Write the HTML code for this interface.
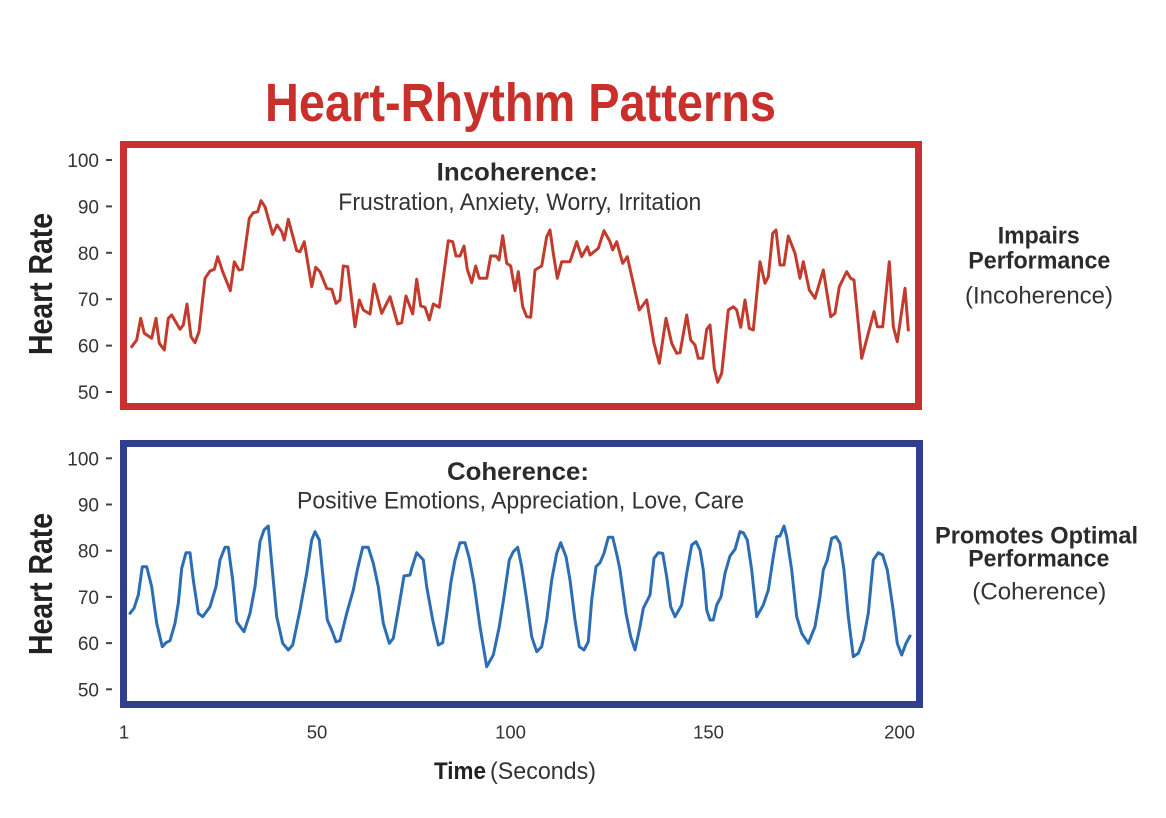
<!DOCTYPE html>
<html>
<head>
<meta charset="utf-8">
<style>
  html,body{margin:0;padding:0;background:#fff;}
  svg{display:block;}
  text{font-family:"Liberation Sans", Arial, sans-serif;}
</style>
</head>
<body>
<svg width="1166" height="818" viewBox="0 0 1166 818" xmlns="http://www.w3.org/2000/svg">
  <rect x="0" y="0" width="1166" height="818" fill="#ffffff"/>

  <!-- Title -->
  <text x="265" y="121" font-size="54" font-weight="bold" fill="#c9302c" textLength="511" lengthAdjust="spacingAndGlyphs">Heart-Rhythm Patterns</text>

  <!-- ===== TOP CHART ===== -->
  <rect x="123.5" y="144.5" width="795" height="262" fill="none" stroke="#c9302f" stroke-width="7"/>

  <text x="436.7" y="180.7" font-size="25" font-weight="bold" fill="#2b2b2b" textLength="161" lengthAdjust="spacingAndGlyphs">Incoherence:</text>
  <text x="338.3" y="210" font-size="24" fill="#333" textLength="363" lengthAdjust="spacingAndGlyphs">Frustration, Anxiety, Worry, Irritation</text>

  <!-- y ticks top -->
  <g font-size="19" fill="#333" text-anchor="end">
    <text x="99" y="167">100</text>
    <text x="99" y="213.4">90</text>
    <text x="99" y="259.8">80</text>
    <text x="99" y="306.2">70</text>
    <text x="99" y="352.6">60</text>
    <text x="99" y="399">50</text>
  </g>
  <g stroke="#444" stroke-width="2">
    <line x1="106" y1="160" x2="112" y2="160"/>
    <line x1="106" y1="206.4" x2="112" y2="206.4"/>
    <line x1="106" y1="252.8" x2="112" y2="252.8"/>
    <line x1="106" y1="299.2" x2="112" y2="299.2"/>
    <line x1="106" y1="345.6" x2="112" y2="345.6"/>
    <line x1="106" y1="392" x2="112" y2="392"/>
  </g>
  <text transform="translate(52,355) rotate(-90)" x="0" y="0" font-size="33" font-weight="bold" fill="#222" textLength="142" lengthAdjust="spacingAndGlyphs">Heart Rate</text>

  <polyline fill="none" stroke="#c23b2c" stroke-width="3" stroke-linejoin="round" stroke-linecap="round"
    points="131.7,346.7 136.7,340 140.7,318.3 144.3,333.3 151.7,338.3 156,318.3 159.3,343.3 164.3,350 168.3,318.3 171.7,315 180,329.3 183.3,325 187,304 191,336.7 195,342.7 199,331.7 205,278.3 210,271 214.3,269.3 217.7,256.7 222.7,271.7 230.3,290.7 234.3,261.7 239,270 242.3,269.3 249.3,218.3 253.3,212.7 257.7,211.7 261,200.7 265,206.7 272.7,234.3 277,225 281.7,231.7 284.3,240 288.3,219.3 296.7,250.7 300,251.7 304.3,241.7 311.7,286.7 315.7,267.3 320,271.7 326.7,288.3 331.7,289.3 336,303.3 340,300 343.3,266 347.7,266.7 355,326.7 359.3,300 363.3,310 370,314 374,284 381.7,313.3 390,296.7 397.7,324 401.7,322.7 406,296 412.7,314 416.7,279.3 420.7,306 425,307.3 429.3,320 433.3,304 439.3,307.3 448.3,240.7 452.7,241.7 456,256 460,256 464,246 467.3,269.3 471.7,282.7 475.7,266 479.3,278.3 486.7,278.3 490.7,256 496,256 499,260 502.7,235.7 506.7,263.3 510.7,266 515,290.7 518.3,271.7 522.7,306.7 526.7,316.7 530.7,317.3 535,270 541.7,266 546.7,236.7 550,230 553.3,253.3 557.3,278.3 561.7,261.7 570,261.7 576.7,241.7 581.7,256.7 587.3,246.7 590,255 598.3,248.3 604,230.7 610,241.7 612.7,250 616.7,241.7 622.7,263.3 627.3,256.7 639.3,310 646.7,300 654,343.3 659.3,363.3 666,318.3 671.7,343.3 676.7,353.3 680,352.7 686.7,315 690.7,340 695,345 698.3,358.3 702.7,358.3 706.7,329.3 710,325 714.3,368.3 717.7,382.3 721.7,373.3 728.3,310 733.3,306.7 736.7,310 740.7,327.3 745,300 749.3,328.3 753.3,330 760,261.7 765,283.3 768.3,276.7 772.7,233.3 776,230 780,265 784,265 788.3,236 795,253.3 800,278.3 803.3,261.7 809.3,290 815,298.3 823.3,270 830.7,316.7 835,313.3 839.3,286.7 846.7,271.7 850.7,278.3 854,280 861.7,358.3 868.3,333.3 874,311.7 877.3,326.7 882.7,326.7 889.3,261.7 893.3,326.7 897.3,341.7 905,288.3 908.3,330"/>

  <!-- right text top -->
  <text x="997.7" y="243.3" font-size="24" font-weight="bold" fill="#2b2b2b" textLength="82" lengthAdjust="spacingAndGlyphs">Impairs</text>
  <text x="968.3" y="268.3" font-size="24" font-weight="bold" fill="#2b2b2b" textLength="142" lengthAdjust="spacingAndGlyphs">Performance</text>
  <text x="965" y="303.5" font-size="24" fill="#333" textLength="148" lengthAdjust="spacingAndGlyphs">(Incoherence)</text>

  <!-- ===== BOTTOM CHART ===== -->
  <rect x="123.5" y="443.5" width="796" height="261" fill="none" stroke="#2f3e8e" stroke-width="7"/>

  <text x="447" y="480" font-size="25" font-weight="bold" fill="#2b2b2b" textLength="142" lengthAdjust="spacingAndGlyphs">Coherence:</text>
  <text x="297" y="508.5" font-size="24" fill="#333" textLength="447" lengthAdjust="spacingAndGlyphs">Positive Emotions, Appreciation, Love, Care</text>

  <g font-size="19" fill="#333" text-anchor="end">
    <text x="99" y="465.3">100</text>
    <text x="99" y="511.5">90</text>
    <text x="99" y="557.7">80</text>
    <text x="99" y="603.9">70</text>
    <text x="99" y="650.1">60</text>
    <text x="99" y="696.3">50</text>
  </g>
  <g stroke="#444" stroke-width="2">
    <line x1="106" y1="458.3" x2="112" y2="458.3"/>
    <line x1="106" y1="504.5" x2="112" y2="504.5"/>
    <line x1="106" y1="550.7" x2="112" y2="550.7"/>
    <line x1="106" y1="596.9" x2="112" y2="596.9"/>
    <line x1="106" y1="643.1" x2="112" y2="643.1"/>
    <line x1="106" y1="689.3" x2="112" y2="689.3"/>
  </g>
  <text transform="translate(52,655) rotate(-90)" x="0" y="0" font-size="33" font-weight="bold" fill="#222" textLength="142" lengthAdjust="spacingAndGlyphs">Heart Rate</text>

  <polyline fill="none" stroke="#2c6db3" stroke-width="3" stroke-linejoin="round" stroke-linecap="round"
    points="130,613.3 134,608.3 138.3,595 142.3,566.7 146.7,566.7 151.7,586.7 156.7,623.3 162.3,646.7 166,642.7 170,640.7 175,623.3 178.3,603.3 181.7,568.3 186,552.7 190,552.7 193.3,580 198.3,613.3 202.7,616.7 210,606.7 216,586.7 220,560 225,547.3 228.3,547.3 232.7,580 236.7,621.7 244,631.7 250,613.3 255,586.7 260,541.7 264,530 268.3,526 271.7,563.3 276.7,616.7 282.7,643.3 288.3,650 292.7,645 300,610 306.7,573.3 311.7,540 315,531.7 319.3,540 323.3,580 327.3,620 331.7,630 336,641.7 340,640.7 346.7,613.3 353.3,590 357.3,570 362.7,547.3 368.3,547.3 373.3,563.3 378.3,586.7 383.3,623.3 389.3,643.3 393.3,638.3 398.3,610 404,576 410,575 411.7,568.3 416.7,552.7 423.3,560 426.7,586.7 432.7,620 438.3,645 442.7,642.7 446.7,615 451,581.7 455,560 460,542.7 465,542.7 469.3,558.3 474,583.3 480,626.7 486.7,666.7 493.3,655 499.3,626.7 504,596.7 509.3,560 513.3,551.7 517.7,547.3 521.7,566.7 526.7,600 531.7,636.7 536.7,651.7 541.7,646.7 546.7,620 551.7,580 556.7,553.3 560.7,542.7 566,556.7 570,580 575,620 579.3,646.7 584,650 588.3,641.7 591.7,600 596,566.7 600,562.7 604,553.3 608.3,537.3 612.7,537.3 617.3,556.7 620,570 626,613.3 630.7,636.7 635,650 640,626.7 643.3,608.3 650,595 654,558.3 658.3,552.7 662.7,553.3 666.7,576.7 670.7,606.7 675,616.7 681.7,605 686.7,573.3 691.7,545 696,541.7 700,550 703.3,570 706.7,610 710,620 713.3,620 716.7,605 721,596.7 725,573.3 730,556 735,549.3 740,531.7 743.3,532.7 747.3,540 751.7,570 756.7,616.7 763.3,605 768.3,590 773.3,556.7 776.7,536.7 780,536 784,526 786.7,536.7 791.7,570 796.7,616.7 801.7,633.3 808.3,643.3 815,626.7 820,596.7 823.3,570 827.3,560 831.7,538.3 836,536.7 840,543.3 844,570 848.3,616.7 853.3,656.7 858.3,653.3 863.3,640 868.3,613.3 873.3,560 878.3,552.7 882.7,555 887.3,570 892.7,606.7 897.3,643.3 901.7,655 906,643.3 910,636"/>

  <!-- right text bottom -->
  <text x="935" y="543.3" font-size="24" font-weight="bold" fill="#2b2b2b" textLength="203" lengthAdjust="spacingAndGlyphs">Promotes Optimal</text>
  <text x="968.3" y="566.7" font-size="24" font-weight="bold" fill="#2b2b2b" textLength="141" lengthAdjust="spacingAndGlyphs">Performance</text>
  <text x="972.3" y="599.5" font-size="24" fill="#333" textLength="134" lengthAdjust="spacingAndGlyphs">(Coherence)</text>

  <!-- x axis labels -->
  <g font-size="18.5" fill="#333" text-anchor="middle">
    <text x="124" y="738.7">1</text>
    <text x="317" y="738.7">50</text>
    <text x="510.5" y="738.7">100</text>
    <text x="708.5" y="738.7">150</text>
    <text x="899.5" y="738.7">200</text>
  </g>
  <text x="434" y="779" font-size="24" font-weight="bold" fill="#222" textLength="52" lengthAdjust="spacingAndGlyphs">Time</text>
  <text x="490" y="779" font-size="24" fill="#333" textLength="106" lengthAdjust="spacingAndGlyphs">(Seconds)</text>
</svg>
</body>
</html>
